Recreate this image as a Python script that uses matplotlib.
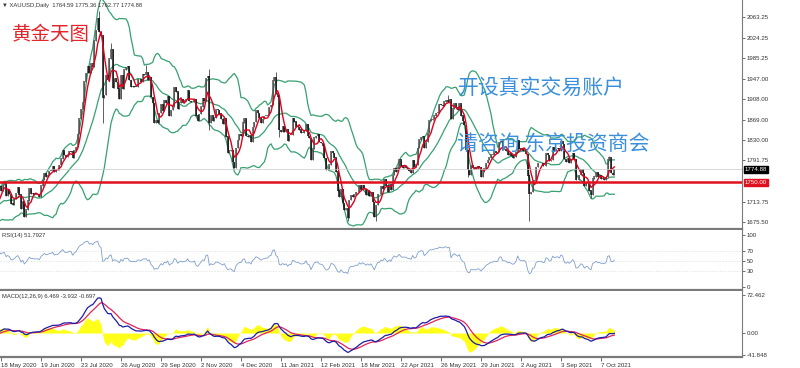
import matplotlib
matplotlib.use('Agg')
import matplotlib.pyplot as plt
import matplotlib.transforms as mtransforms
import numpy as np
import pandas as pd

plt.rcParams['font.family'] = ['Liberation Sans', 'DejaVu Sans']

# XAUUSD daily closes, warm-up bars from 13 Apr 2020 so the indicators are ready on 18 May
close_2020_04 = [1713, 1727, 1716, 1717, 1683, 1695, 1686, 1713, 1731, 1727, 1713, 1707, 1714, 1686]
close_2020_05 = [1700, 1702, 1706, 1685, 1725, 1702, 1697, 1702, 1715, 1730, 1743,
                 1733, 1745, 1748, 1725, 1735, 1728, 1710, 1708, 1718, 1730]
close_2020_06 = [1740, 1727, 1700, 1714, 1685, 1698, 1715, 1738, 1728, 1730, 1726, 1727, 1727, 1722,
                 1744, 1754, 1768, 1761, 1764, 1771, 1772, 1781]
close_2020_07 = [1770, 1775, 1774, 1783, 1795, 1810, 1802, 1799, 1802, 1809, 1808, 1796, 1810, 1817,
                 1842, 1871, 1889, 1902, 1941, 1957, 1970, 1958, 1975]
close_2020_08 = [1969, 2019, 2039, 2062, 2035, 2028, 1911, 1915, 1953, 1944, 1985, 2003, 1930, 1947,
                 1940, 1928, 1909, 1953, 1928, 1964, 1968]
close_2020_09 = [1970, 1944, 1931, 1933, 1932, 1931, 1946, 1946, 1940, 1955, 1954, 1959, 1944, 1950,
                 1912, 1900, 1862, 1868, 1862, 1881, 1898, 1886]
close_2020_10 = [1906, 1900, 1914, 1877, 1887, 1893, 1931, 1922, 1890, 1901, 1908, 1900, 1905, 1907,
                 1924, 1904, 1902, 1902, 1908, 1877, 1867, 1879]
close_2020_11 = [1894, 1909, 1904, 1948, 1951, 1862, 1877, 1866, 1873, 1888, 1887, 1880, 1870, 1861,
                 1871, 1837, 1805, 1810, 1811, 1788, 1777]
close_2020_12 = [1815, 1830, 1841, 1839, 1863, 1871, 1838, 1836, 1839, 1827, 1855, 1864, 1886, 1881,
                 1872, 1863, 1870, 1876, 1877, 1878, 1893, 1896]
close_2021_01 = [1943, 1950, 1918, 1913, 1849, 1845, 1856, 1845, 1851, 1828, 1840, 1840, 1871, 1865,
                 1856, 1855, 1850, 1843, 1844, 1847]
close_2021_02 = [1861, 1838, 1834, 1793, 1814, 1835, 1838, 1842, 1826, 1824, 1819, 1796, 1774, 1775,
                 1784, 1809, 1806, 1797, 1770, 1734]
close_2021_03 = [1723, 1737, 1711, 1697, 1700, 1683, 1716, 1726, 1723, 1727, 1731, 1731, 1745, 1736,
                 1744, 1737, 1727, 1734, 1725, 1732, 1712, 1685, 1707]
close_2021_04 = [1728, 1728, 1743, 1737, 1756, 1744, 1732, 1746, 1736, 1764, 1777, 1770, 1779, 1793,
                 1782, 1777, 1780, 1777, 1773, 1772, 1768]
close_2021_05 = [1792, 1779, 1784, 1815, 1831, 1836, 1837, 1815, 1827, 1843, 1867, 1869, 1870, 1877,
                 1881, 1882, 1898, 1896, 1895, 1903, 1906]
close_2021_06 = [1903, 1908, 1871, 1890, 1899, 1893, 1888, 1899, 1877, 1866, 1859, 1811, 1773, 1764,
                 1783, 1778, 1779, 1776, 1781, 1779, 1761, 1770]
close_2021_07 = [1776, 1787, 1792, 1797, 1803, 1803, 1808, 1806, 1807, 1826, 1828, 1812, 1812, 1810,
                 1803, 1806, 1801, 1797, 1799, 1807, 1829, 1814]
close_2021_08 = [1812, 1810, 1812, 1804, 1763, 1729, 1732, 1752, 1753, 1779, 1786, 1787, 1787, 1781,
                 1781, 1805, 1802, 1790, 1792, 1817, 1810, 1813]
close_2021_09 = [1815, 1810, 1827, 1823, 1794, 1788, 1795, 1787, 1794, 1805, 1794, 1754, 1754, 1764,
                 1774, 1768, 1743, 1750, 1750, 1734, 1726, 1757]
close_2021_10 = [1761, 1769, 1760, 1763, 1756, 1757, 1754, 1760, 1793, 1797, 1768, 1765, 1774.88]

holidays = ['2020-12-25', '2021-01-01', '2021-04-02']

# notable wicks
wick_high = {'2020-08-07': 2075, '2020-08-18': 2015, '2020-11-09': 1965, '2021-01-06': 1959,
             '2021-06-01': 1916, '2021-10-14': 1800, '2020-09-16': 1973}
wick_low = {'2020-08-11': 1863, '2020-11-09': 1850, '2021-01-08': 1836, '2021-03-08': 1676,
            '2021-03-31': 1677, '2021-06-17': 1761, '2021-08-09': 1677, '2021-09-29': 1721}

date_labels = ['18 May 2020', '19 Jun 2020', '23 Jul 2020', '26 Aug 2020', '29 Sep 2020', '2 Nov 2020',
               '4 Dec 2020', '11 Jan 2021', '12 Feb 2021', '18 Mar 2021', '22 Apr 2021', '26 May 2021',
               '29 Jun 2021', '2 Aug 2021', '3 Sep 2021', '7 Oct 2021']
price_ticks = [2063.25, 2024.25, 1985.25, 1947.00, 1908.00, 1869.00, 1830.00, 1791.75, 1713.75, 1675.50]
rsi_ticks = [100, 70, 50, 30, 0]
macd_ticks = [72.462, 0.00, -41.848]
level_price = 1750.00

closes = np.array(close_2020_04 + close_2020_05 + close_2020_06 + close_2020_07 + close_2020_08 +
                  close_2020_09 + close_2020_10 + close_2020_11 + close_2020_12 + close_2021_01 +
                  close_2021_02 + close_2021_03 + close_2021_04 + close_2021_05 + close_2021_06 +
                  close_2021_07 + close_2021_08 + close_2021_09 + close_2021_10, dtype=float)
dates = pd.bdate_range('2020-04-13', '2021-10-19', freq='C', holidays=holidays)
assert len(dates) == len(closes), (len(dates), len(closes))
idx = np.arange(len(closes))
opens = np.r_[closes[0], closes[:-1]]

s = pd.Series(closes)
mid = s.rolling(20).mean()
sd = s.rolling(20).std(ddof=0)
upper, lower = mid + 2 * sd, mid - 2 * sd
ma = s.rolling(5).mean()
d = s.diff()
avg_g = d.clip(lower=0).ewm(alpha=1 / 14, adjust=False).mean()
avg_l = (-d.clip(upper=0)).ewm(alpha=1 / 14, adjust=False).mean()
rsi = 100 - 100 / (1 + avg_g / avg_l)
dif = s.ewm(span=12, adjust=False).mean() - s.ewm(span=26, adjust=False).mean()
dea = dif.ewm(span=9, adjust=False).mean()
bar = 2 * (dif - dea)

W, H = 800, 368
fig = plt.figure(figsize=(W / 100, H / 100), dpi=100)
right = 742 / W
def box(top, bottom):
    return [0, 1 - bottom / H, right, (bottom - top) / H]
ax = fig.add_axes(box(0, 229))
ax_r = fig.add_axes(box(230, 290))
ax_m = fig.add_axes(box(291, 357))

xlim = (24.4, 469.6)
grey = '#7a7a7a'
small = 4.4
for a in (ax, ax_r, ax_m):
    a.set_xlim(*xlim)
    a.yaxis.tick_right()
    a.spines['left'].set_visible(False)
    a.spines['top'].set_visible(False)
    a.spines['bottom'].set_color(grey)
    a.spines['bottom'].set_linewidth(1.6)
    a.spines['right'].set_color(grey)
    a.spines['right'].set_linewidth(0.8)
    a.tick_params(axis='y', length=2, pad=1.5, labelsize=small, colors='#333333', width=0.5)
    a.tick_params(axis='x', bottom=False, labelbottom=False)
    a.set_facecolor('white')

# price panel
green = '#36a170'
ax.plot(idx, upper, color=green, lw=0.9)
ax.plot(idx, mid, color=green, lw=0.9)
ax.plot(idx, lower, color=green, lw=0.9)
hi = np.maximum(opens, closes)
lo = np.minimum(opens, closes)
for k, v in wick_high.items():
    hi[dates.get_loc(pd.Timestamp(k))] = v
for k, v in wick_low.items():
    lo[dates.get_loc(pd.Timestamp(k))] = v
ax.vlines(idx, lo, hi, color='#222222', lw=0.5)
body_lo = np.minimum(opens, closes)
body_hi = np.maximum(opens, closes)
up = closes >= opens
ax.vlines(idx[up], body_lo[up], body_hi[up] + 0.8, color='#555555', lw=1.1)
ax.vlines(idx[~up], body_lo[~up], body_hi[~up] + 0.8, color='#111111', lw=1.1)
ax.plot(idx, ma, color='#e0001b', lw=1.0)
ax.axhline(closes[-1], color='#c8c8c8', lw=0.5)
ax.axhline(level_price, color='#e0101e', lw=1.8)
ax.set_ylim(1661.7, 2096.1)
ax.set_yticks(price_ticks)
ax.set_yticklabels(['%.2f' % v for v in price_ticks])
tr = mtransforms.blended_transform_factory(ax.transAxes, ax.transData)
ax.text(1.004, closes[-1], '%.2f' % closes[-1], transform=tr, fontsize=small, color='white',
        va='center', ha='left', clip_on=False,
        bbox=dict(boxstyle='square,pad=0.15', fc='black', ec='black'))
ax.text(1.004, level_price, '%.2f' % level_price, transform=tr, fontsize=small, color='white',
        va='center', ha='left', clip_on=False,
        bbox=dict(boxstyle='square,pad=0.15', fc='#e0101e', ec='#e0101e'))

# RSI panel
for lv in (70, 50, 30):
    ax_r.axhline(lv, color='#dcdcdc', lw=0.5, ls=(0, (2, 2)))
ax_r.plot(idx, rsi, color='#7f9fcc', lw=0.6)
ax_r.set_ylim(-5.8, 109.6)
ax_r.set_yticks(rsi_ticks)
ax_r.set_yticklabels([str(v) for v in rsi_ticks])

# MACD panel
ax_m.fill_between(idx, 0, bar, color='#ffff1a', lw=0)
ax_m.plot(idx, dea, color='#e0245c', lw=0.9)
ax_m.plot(idx, dif, color='#1c1ca8', lw=0.9)
ax_m.set_ylim(-45.66, 80.1)
ax_m.set_yticks(macd_ticks)
ax_m.set_yticklabels(['72.462', '0.00', '-41.848'])
pos = [dates.get_loc(pd.Timestamp(lbl)) for lbl in date_labels]
ax_m.set_xticks(pos)
ax_m.set_xticklabels(date_labels, ha='left')
ax_m.tick_params(axis='x', bottom=True, labelbottom=True, length=3, width=0.5, pad=1.5,
                 labelsize=small, colors='#333333', direction='out')

# header labels
fig.text(2 / W, 1 - 5 / H, '\u25bc XAUUSD,Daily  1764.59 1775.36 1762.77 1774.88',
         fontsize=4.2, color='#333333', va='center', ha='left', family=['Liberation Sans', 'DejaVu Sans'])
fig.text(2 / W, 1 - 235.5 / H, 'RSI(14) 51.7927', fontsize=4.2, color='#333333', va='center', ha='left')
fig.text(2 / W, 1 - 296.5 / H, 'MACD(12,26,9) 6.469 -3.932 -0.697', fontsize=4.2, color='#333333',
         va='center', ha='left')

# watermarks
cjk = ['Noto Sans CJK SC', 'DejaVu Sans']
fig.text(12 / W, 1 - 34 / H, '黄金天图', family=cjk, fontsize=14, color='#e4252b', va='center', ha='left')
fig.text(458 / W, 1 - 88 / H, '开设真实交易账户', family=cjk, fontsize=15, color='#3b8fdc',
         va='center', ha='left')
fig.text(457 / W, 1 - 144 / H, '请咨询 东京投资商会', family=cjk, fontsize=15, color='#3b8fdc',
         va='center', ha='left')

fig.savefig('out.png', dpi=100, facecolor='white')
